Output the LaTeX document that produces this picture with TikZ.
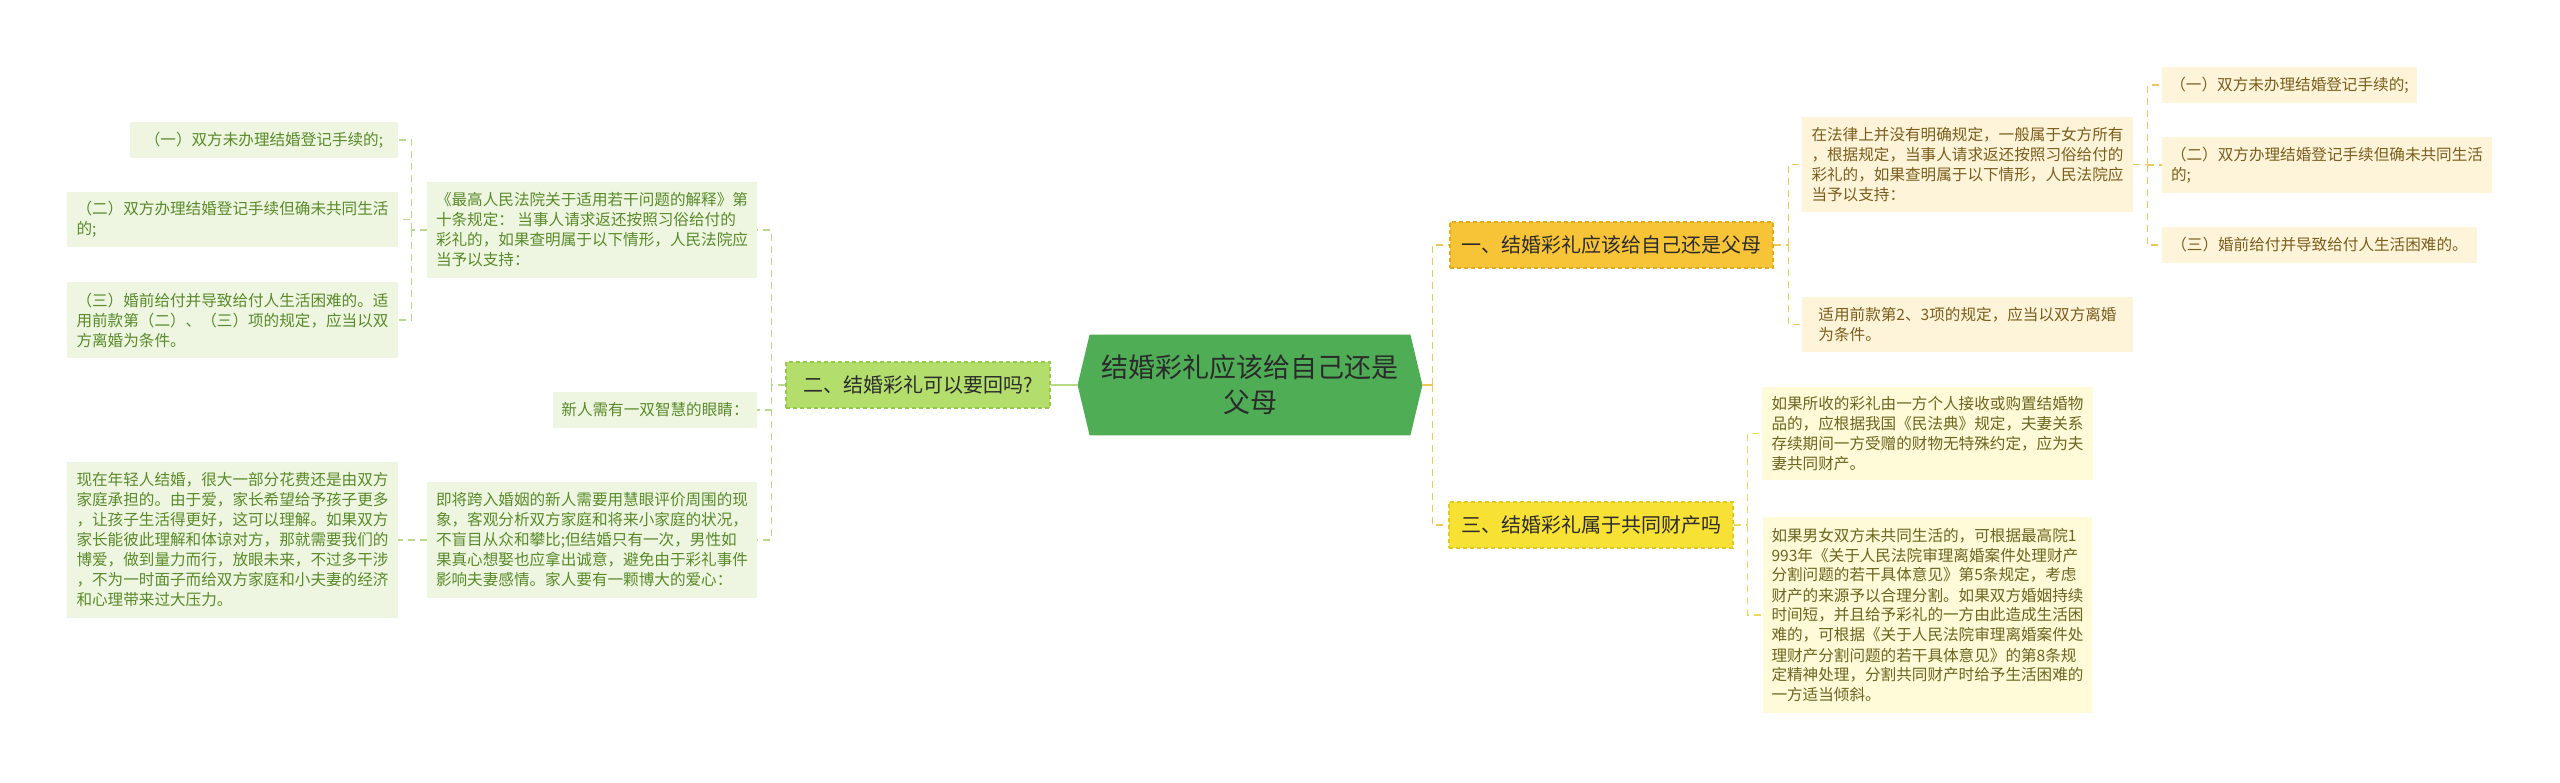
\documentclass[tikz,border=0pt]{standalone}
\usepackage{fontspec}
\setmainfont{Noto Sans CJK SC}
\usetikzlibrary{backgrounds}
\definecolor{hexgreen}{HTML}{4FAD56}
\definecolor{ergreen}{HTML}{B3DE6C}
\definecolor{erborder}{HTML}{94C94A}
\definecolor{yigold}{HTML}{F8C437}
\definecolor{yiborder}{HTML}{E3AA1B}
\definecolor{sanyel}{HTML}{F7E135}
\definecolor{sanborder}{HTML}{E2C820}
\definecolor{lfill}{HTML}{EEF6E1}
\definecolor{ltext}{HTML}{5A8A2A}
\definecolor{lline}{HTML}{B6D98C}
\definecolor{yfill}{HTML}{FEF4DA}
\definecolor{ytext}{HTML}{7B5E1C}
\definecolor{yline}{HTML}{F0C75A}
\definecolor{sfill}{HTML}{FFFAD7}
\definecolor{stext}{HTML}{6D6520}
\definecolor{sline}{HTML}{EBD95A}
\definecolor{darktext}{HTML}{2B2B2B}
\tikzset{
  leafbox/.style={align=left, inner sep=0pt, font=\fontsize{7.8pt}{10pt}\selectfont},
  leafL/.style={leafbox, fill=lfill, text=ltext},
  leafY/.style={leafbox, fill=yfill, text=ytext},
  leafS/.style={leafbox, fill=sfill, text=stext},
  topbox/.style={inner sep=0pt, text=darktext, font=\fontsize{10pt}{12pt}\selectfont, dashed, dash pattern=on 2pt off 1.5pt, line width=0.6pt},
  dconn/.style={dash pattern=on 3.5pt off 2.5pt, line width=0.75pt},
  lconn/.style={dconn, draw=lline},
  yconn/.style={dconn, draw=yline},
  sconn/.style={dconn, draw=sline},
}
\begin{document}
\begin{tikzpicture}[x=0.5pt,y=-0.5pt]
\begin{scope}[on background layer]
\fill[white] (0,0) rectangle (2560,782);
\end{scope}
\useasboundingbox (0,0) rectangle (2560,782);

% central node
\node[inner sep=0pt, minimum width=172pt, minimum height=50pt, align=center, text=darktext,
      font=\fontsize{13.5pt}{17.5pt}\selectfont] (hex) at (1250,385) {结婚彩礼应该给自己还是\\父母};
\begin{scope}[on background layer]
\fill[hexgreen] (hex.west) -- ([xshift=6pt]hex.north west) -- ([xshift=-6pt]hex.north east)
   -- (hex.east) -- ([xshift=-6pt]hex.south east) -- ([xshift=6pt]hex.south west) -- cycle;
\end{scope}

% main branches
\node[topbox, fill=ergreen, draw=erborder, minimum width=132pt, minimum height=23pt] (er) at (918,385) {二、结婚彩礼可以要回吗?};
\node[topbox, fill=yigold, draw=yiborder, minimum width=161.5pt, minimum height=23pt] (yi) at (1611.5,245) {一、结婚彩礼应该给自己还是父母};
\node[topbox, fill=sanyel, draw=sanborder, minimum width=142pt, minimum height=23pt] (san) at (1591,525) {三、结婚彩礼属于共同财产吗};

% left leaves
\node[leafL, minimum width=134pt, minimum height=18pt] (L1) at (264,140) {（一）双方未办理结婚登记手续的;};
\node[leafL, minimum width=165.5pt, minimum height=27.5pt] (L2) at (232.5,219.5) {（二）双方办理结婚登记手续但确未共同生活\\的;};
\node[leafL, minimum width=165.5pt, minimum height=38pt] (L3) at (232.5,320) {（三）婚前给付并导致给付人生活困难的。适\\用前款第（二）、（三）项的规定，应当以双\\方离婚为条件。};
\node[leafL, minimum width=165pt, minimum height=48pt] (zuigao) at (592,230) {《最高人民法院关于适用若干问题的解释》第\\十条规定： 当事人请求返还按照习俗给付的\\彩礼的，如果查明属于以下情形，人民法院应\\当予以支持：};
\node[leafL, minimum width=102pt, minimum height=18pt] (xinren) at (655,410) {新人需有一双智慧的眼睛：};
\node[leafL, minimum width=165pt, minimum height=58pt] (jijiang) at (592,540) {即将跨入婚姻的新人需要用慧眼评价周围的现\\象，客观分析双方家庭和将来小家庭的状况，\\不盲目从众和攀比;但结婚只有一次，男性如\\果真心想娶也应拿出诚意，避免由于彩礼事件\\影响夫妻感情。家人要有一颗博大的爱心：};
\node[leafL, minimum width=165.5pt, minimum height=78pt] (xianzai) at (232.5,540) {现在年轻人结婚，很大一部分花费还是由双方\\家庭承担的。由于爱，家长希望给予孩子更多\\，让孩子生活得更好，这可以理解。如果双方\\家长能彼此理解和体谅对方，那就需要我们的\\博爱，做到量力而行，放眼未来，不过多干涉\\，不为一时面子而给双方家庭和小夫妻的经济\\和心理带来过大压力。};

% right leaves (branch one)
\node[leafY, minimum width=165.5pt, minimum height=47.5pt] (falv) at (1967.5,164.5) {在法律上并没有明确规定，一般属于女方所有\\，根据规定，当事人请求返还按照习俗给付的\\彩礼的，如果查明属于以下情形，人民法院应\\当予以支持：};
\node[leafY, minimum width=165.5pt, minimum height=27.5pt] (shiyong) at (1967.5,324.5) {适用前款第2、3项的规定，应当以双方离婚\\为条件。};
\node[leafY, minimum width=127.5pt, minimum height=18pt] (R1) at (2289.5,85) {（一）双方未办理结婚登记手续的;};
\node[leafY, minimum width=165pt, minimum height=28pt] (R2) at (2327,165) {（二）双方办理结婚登记手续但确未共同生活\\的;};
\node[leafY, minimum width=157.5pt, minimum height=18pt] (R3) at (2319.5,245) {（三）婚前给付并导致给付人生活困难的。};

% right leaves (branch three)
\node[leafS, minimum width=165.5pt, minimum height=46.5pt] (suoshou) at (1927.5,433.5) {如果所收的彩礼由一方个人接收或购置结婚物\\品的，应根据我国《民法典》规定，夫妻关系\\存续期间一方受赠的财物无特殊约定，应为夫\\妻共同财产。};
\node[leafS, minimum width=164.5pt, minimum height=98pt] (nannv) at (1927.5,615) {如果男女双方未共同生活的，可根据最高院1\\993年《关于人民法院审理离婚案件处理财产\\分割问题的若干具体意见》第5条规定，考虑\\财产的来源予以合理分割。如果双方婚姻持续\\时间短，并且给予彩礼的一方由此造成生活困\\难的，可根据《关于人民法院审理离婚案件处\\理财产分割问题的若干具体意见》的第8条规\\定精神处理，分割共同财产时给予生活困难的\\一方适当倾斜。};

% connectors: centre to branches
\draw[lline!80!ergreen, line width=1pt] (hex.west) -- (er.east);
\draw[yline, line width=1pt] (hex.east) -- ++(10,0) coordinate (rj);
\draw[yconn] (rj) |- (yi.west);
\draw[yconn] (rj) |- (san.west);

% left side
\draw[lconn] (er.west) -- ++(-14,0) coordinate (lj);
\draw[lconn] (lj) |- (zuigao.east);
\draw[lconn] (lj) |- (xinren.east);
\draw[lconn] (lj) |- (jijiang.east);
\draw[lconn] (zuigao.west) -- ++(-15,0) coordinate (lk);
\draw[lconn] (lk) |- (L1.east);
\draw[lconn] (lk) |- (L2.east);
\draw[lconn] (lk) |- (L3.east);
\draw[lconn] (jijiang.west) -- (xianzai.east);

% right side, branch one
\draw[yconn] (yi.east) -- ++(15,0) coordinate (yj);
\draw[yconn] (yj) |- (falv.west);
\draw[yconn] (yj) |- (shiyong.west);
\draw[yconn] (falv.east) -- ++(14,0) coordinate (yk);
\draw[yconn] (yk) |- (R1.west);
\draw[yconn] (yk) |- (R2.west);
\draw[yconn] (yk) |- (R3.west);

% right side, branch three
\draw[sconn] (san.east) -- ++(14,0) coordinate (sj);
\draw[sconn] (sj) |- (suoshou.west);
\draw[sconn] (sj) |- (nannv.west);
\end{tikzpicture}
\end{document}
